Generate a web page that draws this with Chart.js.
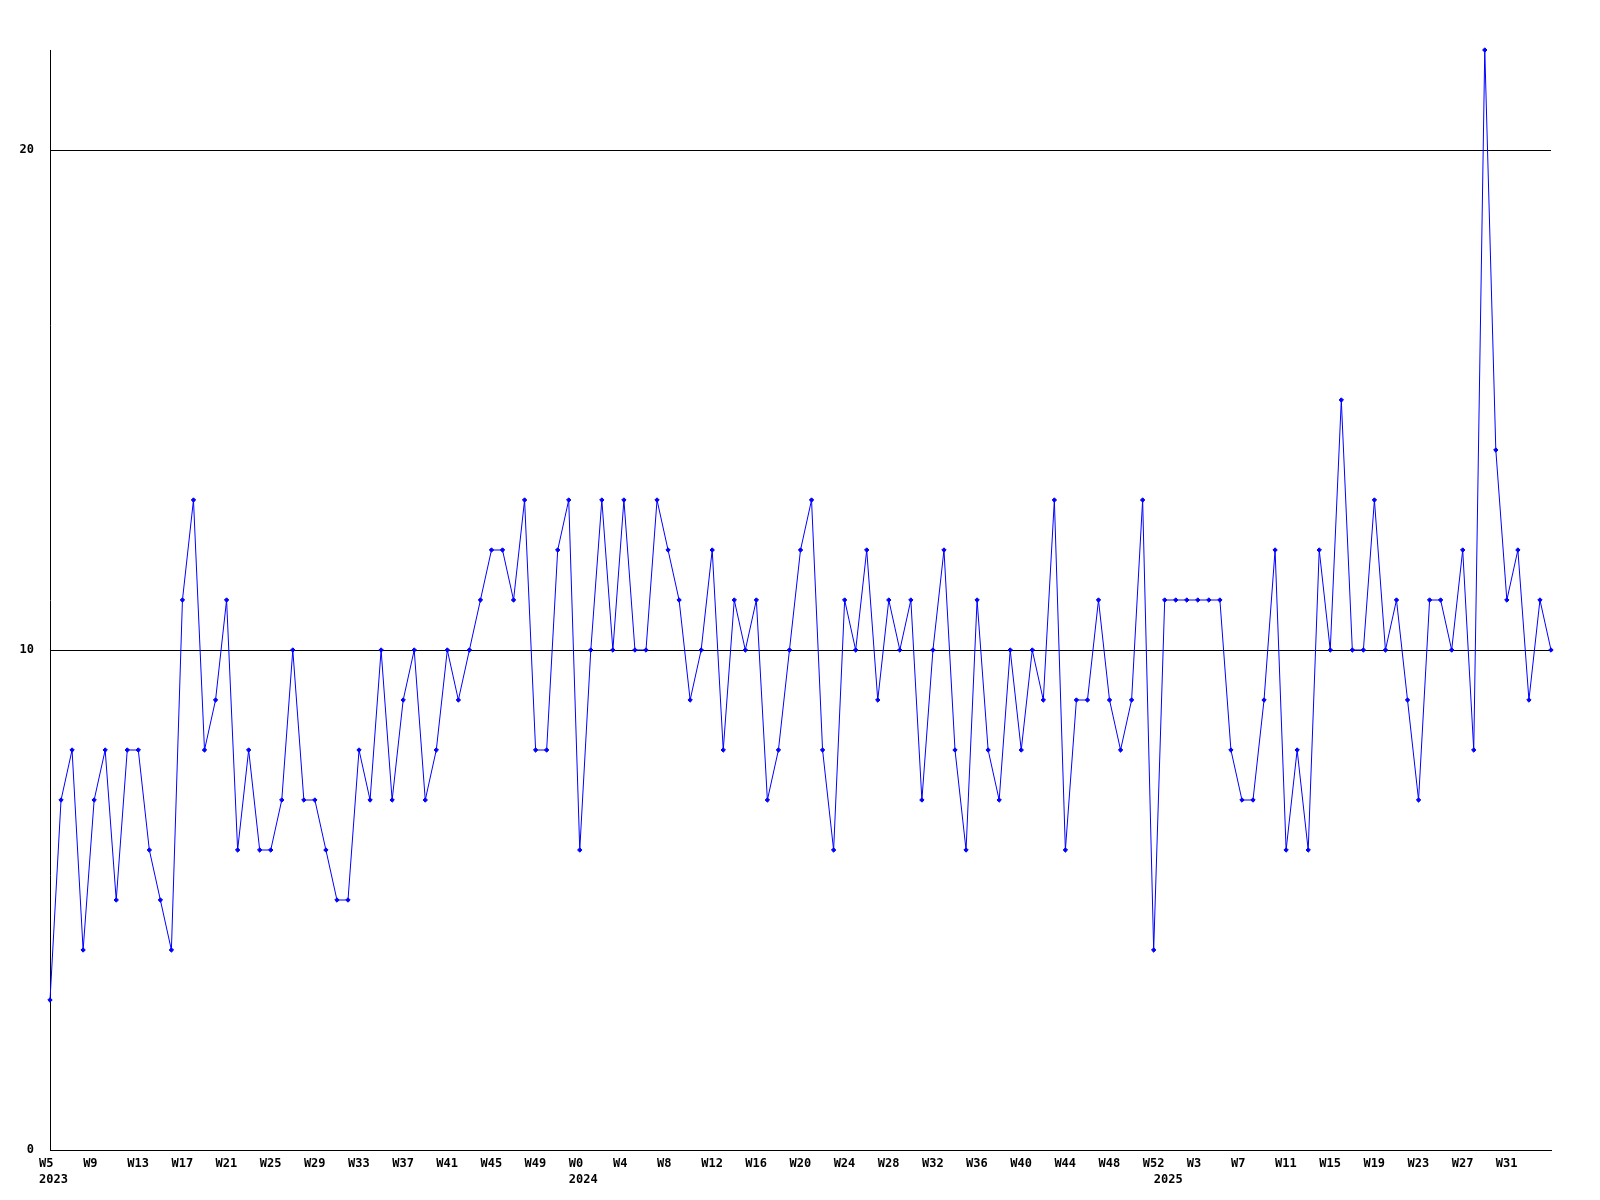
<!DOCTYPE html>
<html>
<head>
<meta charset="utf-8">
<style>
  html, body { margin: 0; padding: 0; background: #fff; }
  #wrap { width: 1600px; height: 1200px; }
</style>
<script src="https://cdn.jsdelivr.net/npm/chart.js@4/dist/chart.umd.min.js"></script>
</head>
<body>
<div id="wrap"><canvas id="weekly" width="1600" height="1200"></canvas></div>
<script>
// weekly series, 2023 W5 .. 2025 W35
const years = [2023, 2024, 2025];
const firstWeek = [5, 0, 0];
const lastWeek = [52, 52, 35];

const counts = [
  3, 7, 8, 4, 7, 8, 5, 8, 8, 6, 5, 4, 11, 13, 8, 9, 11, 6, 8, 6, 6, 7, 10, 7,
  7, 6, 5, 5, 8, 7, 10, 7, 9, 10, 7, 8, 10, 9, 10, 11, 12, 12, 11, 13, 8, 8, 12, 13,
  6, 10, 13, 10, 13, 10, 10, 13, 12, 11, 9, 10, 12, 8, 11, 10, 11, 7, 8, 10, 12, 13, 8, 6,
  11, 10, 12, 9, 11, 10, 11, 7, 10, 12, 8, 6, 11, 8, 7, 10, 8, 10, 9, 13, 6, 9, 9, 11,
  9, 8, 9, 13, 4,
  11, 11, 11, 11, 11, 11, 8, 7, 7, 9, 12, 6, 8, 6, 12, 10, 15, 10, 10, 13, 10, 11, 9, 7,
  11, 11, 10, 12, 8, 22, 14, 11, 12, 9, 11, 10
];

const yTicks = [0, 10, 20];
const yMax = 22;

// category list: one entry per year/week
const weeks = [];
const weekYear = [];
years.forEach((y, k) => {
  for (let w = firstWeek[k]; w <= lastWeek[k]; w++) {
    weeks.push('W' + w);
    weekYear.push(y);
  }
});
const categories = weeks.map((w, i) => weekYear[i] + ' ' + w);

Chart.defaults.color = '#000';
Chart.defaults.font.family = "'DejaVu Sans Mono', monospace";
Chart.defaults.font.size = 12;
Chart.defaults.font.weight = 'bold';

new Chart(document.getElementById('weekly').getContext('2d'), {
  type: 'line',
  data: {
    labels: categories,
    datasets: [{
      label: 'count',
      data: counts,
      borderColor: '#0000ff',
      backgroundColor: '#0000ff',
      borderWidth: 1,
      tension: 0,
      pointStyle: 'rectRot',
      pointRadius: 2.2,
      pointBorderWidth: 1,
      clip: false
    }]
  },
  options: {
    responsive: false,
    animation: false,
    layout: { padding: { top: 50, right: 49, left: 0, bottom: 0 } },
    plugins: { legend: { display: false }, tooltip: { enabled: false } },
    scales: {
      x: {
        offset: false,
        grid: { display: false, drawTicks: false },
        border: { display: true, color: '#000', width: 1 },
        afterFit: function(scale) { scale.height = 50; },
        ticks: {
          autoSkip: false,
          maxRotation: 0,
          minRotation: 0,
          align: 'start',
          labelOffset: -11,
          padding: 6,
          font: { lineHeight: 1.35 },
          callback: function(val, i) {
            const newYear = i === 0 || weekYear[i] !== weekYear[i - 1];
            // last week is left unlabelled, as in the original
            const show = i % 4 === 0 && i < weeks.length - 1;
            if (show && newYear) return [weeks[i], String(weekYear[i])];
            if (show) return weeks[i];
            if (newYear) return ['', String(weekYear[i])];
            return '';
          }
        }
      },
      y: {
        min: 0,
        max: yMax,
        afterFit: function(scale) { scale.width = 50; },
        afterBuildTicks: function(scale) {
          scale.ticks = yTicks.map(v => ({ value: v }));
        },
        grid: { color: '#000', lineWidth: 1, drawTicks: false },
        border: { display: true, color: '#000', width: 1 },
        ticks: { padding: 16 }
      }
    }
  }
});
</script>
</body>
</html>
